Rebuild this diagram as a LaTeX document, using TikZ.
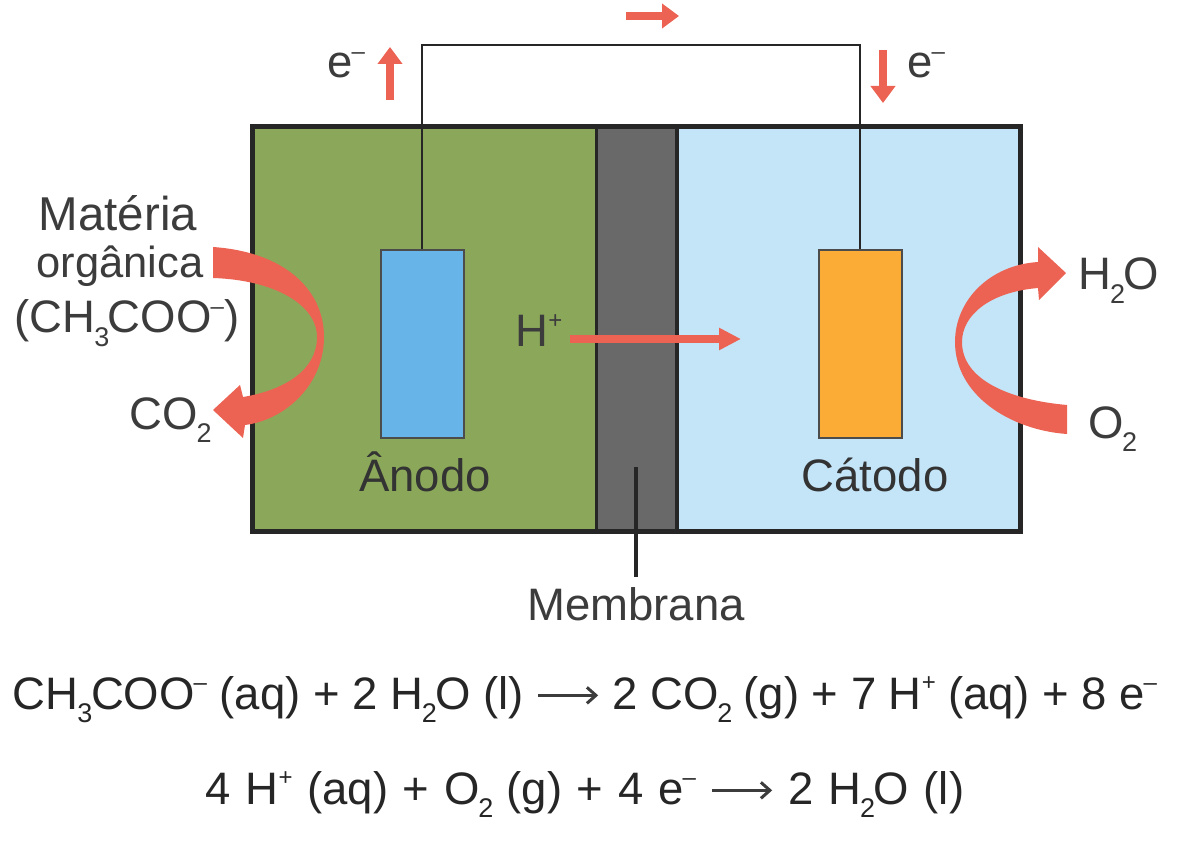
\documentclass[tikz,border=0pt]{standalone}
\usepackage{fontspec}
\setmainfont{Liberation Sans}
\usetikzlibrary{arrows.meta}
\definecolor{txt}{HTML}{3C3C3C}
\definecolor{grn}{HTML}{8BA85A}
\definecolor{lblue}{HTML}{C4E5F8}
\definecolor{memb}{HTML}{696969}
\definecolor{eblue}{HTML}{67B5E8}
\definecolor{eorange}{HTML}{FAAC36}
\definecolor{redar}{HTML}{EC6353}
\newcommand{\sbx}[1]{\kern-0.03em\relax\raisebox{-0.3em}{\fontsize{27}{27}\selectfont #1}\kern-0.03em\relax}
\newcommand{\spx}[1]{\raisebox{0.4em}{\fontsize{24}{24}\selectfont #1}}
\newcommand{\mn}{\kern-0.02em\relax\spx{–}}
\newcommand{\yld}{\tikz[baseline=-0.3em]\draw[-{Straight Barb[length=9pt,width=16pt]},line width=3pt,txt](0,0)--(60pt,0);}
\tikzset{
 lab/.style={font=\fontsize{45.5}{52}\selectfont,text=txt,inner sep=0pt,align=center},
 eq/.style={font=\fontsize{45.5}{52}\selectfont,text=black!85,inner sep=0pt,anchor=base},
 cell/.style={inner sep=0pt,outer sep=0pt,anchor=north west},
 elec/.style={draw=black!70,line width=2pt,inner sep=0pt,anchor=north west,minimum width=83pt,minimum height=188pt},
 wire/.style={draw=black!85,line width=2.6pt},
 smallar/.style={draw=redar,line width=8pt,-{Triangle[length=17pt,width=24pt]}}
}
\begin{document}
\begin{tikzpicture}[x=1pt,y=-1pt]
\useasboundingbox (0,0) rectangle (1200,842);
\fill[white] (0,0) rectangle (1200,842);
% chambers
\node[cell,fill=grn,minimum width=344pt,minimum height=404pt] (anodecell) at (252,127) {};
\node[cell,fill=lblue,minimum width=343pt,minimum height=404pt] (cathodecell) at (677,127) {};
\node[cell,fill=memb,minimum width=81pt,minimum height=404pt] (membrane) at (596,127) {};
\draw[black!85,line width=3pt] (596,127)--(596,531);
\draw[black!85,line width=4pt] (677,127)--(677,531);
\draw[black!85,line width=5pt] (252,127) rectangle (1020,531);
% electrodes
\node[elec,fill=eblue] (anode) at (379.5,249) {};
\node[elec,fill=eorange] (cathode) at (817.5,249) {};
% wire
\coordinate (wtop) at (640,45);
\draw[wire,line join=miter] (anode.north) -- (anode.north |- wtop) -- (cathode.north |- wtop) -- (cathode.north);
% electron arrows
\coordinate (ea1) at (390,100); \coordinate (ea2) at (390,47);
\coordinate (eb1) at (883,50); \coordinate (eb2) at (883,103);
\coordinate (ec1) at (626,16); \coordinate (ec2) at (679,16);
\draw[smallar] (ea1)--(ea2);
\draw[smallar] (eb1)--(eb2);
\draw[smallar] (ec1)--(ec2);
\node[lab,anchor=base] (em1) at (346,78) {e\mn};
\node[lab,anchor=base] (em2) at (926,78) {e\mn};
% labels
\node[lab,anchor=base,font=\fontsize{47.5}{52}\selectfont] (tmat) at (118,231) {Matéria};
\node[lab,anchor=base,font=\fontsize{43.5}{50}\selectfont] (torg) at (120,278) {orgânica};
\node[lab,anchor=base] (tch) at (127,333) {(CH\sbx{3}COO\mn)};
\node[lab,anchor=base] (tco) at (170,429) {CO\sbx{2}};
\node[lab,anchor=base] (th2o) at (1119,290) {H\sbx{2}O};
\node[lab,anchor=base] (to2) at (1112,438) {O\sbx{2}};
\node[lab,anchor=base] (thp) at (539,347) {H\spx{+}};
\node[lab,anchor=base,text=black!80] (tan) at (425,491) {Ânodo};
\node[lab,anchor=base,text=black!80] (tcat) at (875,491) {Cátodo};
\node[lab,anchor=base] (tmem) at (636,620) {Membrana};
% membrane pointer
\coordinate (mp) at (636,467);
\draw[black!85,line width=3.5pt] (mp) -- (636,577);
% H+ arrow
\coordinate (hs) at (570,339);
\coordinate (he) at (741,339);
\draw[draw=redar,line width=7.5pt,-{Triangle[length=22pt,width=21pt]}] (hs)--(he);
% curved arrow left
\fill[redar] (213,247) .. controls (285,252) and (324,290) .. (324,337)
  .. controls (324,385) and (285,420) .. (245,425)
  -- (243,438) -- (213,410) -- (240,385) -- (243,397)
  .. controls (285,390) and (317,370) .. (317,337)
  .. controls (317,305) and (275,280) .. (213,278) -- cycle;
% curved arrow right
\fill[redar] (1067,405) .. controls (1010,400) and (962,380) .. (962,342)
  .. controls (962,315) and (990,292) .. (1038,288)
  -- (1039,300) -- (1066,273) -- (1038,247) -- (1038,262)
  .. controls (990,265) and (955,300) .. (955,342)
  .. controls (955,395) and (1010,430) .. (1067,434) -- cycle;
% equations
\node[eq] (eq1) at (585,709) {CH\sbx{3}COO\mn{} (aq) + 2 H\sbx{2}O (l) \yld{} 2 CO\sbx{2} (g) + 7 H\spx{+} (aq) + 8 e\mn};
\node[eq] (eq2) at (585,804) {\spaceskip=14.7pt\relax 4 H\spx{+} (aq) + O\sbx{2} (g) + 4 e\mn{} \yld{} 2 H\sbx{2}O (l)};
\end{tikzpicture}
\end{document}
